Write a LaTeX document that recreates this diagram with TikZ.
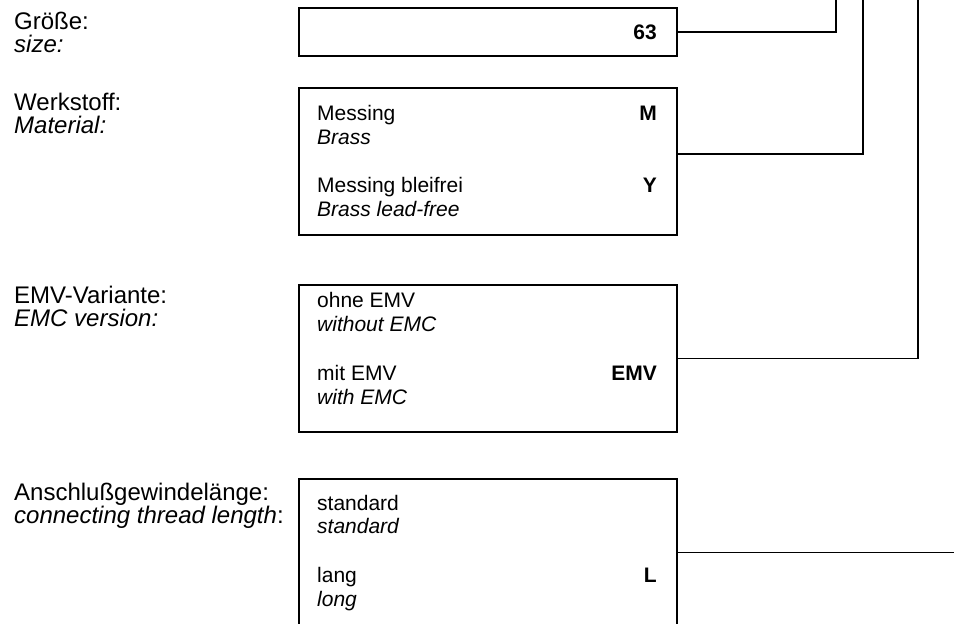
\documentclass[tikz,border=0pt]{standalone}
\usepackage{fontspec}
\setmainfont{Liberation Sans}
\tikzset{
  box/.style={draw, line width=1.5pt, minimum width=378pt, minimum height=147pt, inner sep=0pt},
  lbl/.style={anchor=base west, inner sep=0pt, font=\fontsize{24}{24}\selectfont},
  ilbl/.style={lbl, font=\fontsize{24}{24}\selectfont\itshape},
  txt/.style={anchor=base west, inner sep=0pt, font=\fontsize{21}{24}\selectfont},
  itxt/.style={txt, font=\fontsize{21}{24}\selectfont\itshape},
  code/.style={anchor=base east, inner sep=0pt, font=\fontsize{21}{24}\selectfont\bfseries},
  link/.style={line width=1.5pt}
}
\begin{document}
\begin{tikzpicture}[x=1pt,y=-1pt]
\useasboundingbox (0,0) rectangle (954,624);

% left column
\node[lbl]  (lsize)  at (14,29)  {Größe:};
\node[ilbl] (lsizeE) at (14,52)  {size:};
\node[lbl]  (lmat)   at (14,110) {Werkstoff:};
\node[ilbl] (lmatE)  at (14,133) {Material:};
\node[lbl]  (lemv)   at (14,303) {EMV-Variante:};
\node[ilbl] (lemvE)  at (14,326) {EMC version:};
\node[lbl]  (lthr)   at (14,500) {Anschlußgewindelänge:};
\node[lbl]  (lthrE)  at (14,523) {\itshape connecting thread length\upshape:};

% boxes
\node[box, minimum height=48pt] (size) at (488,32) {};
\node[box] (mat)    at (488,161.5) {};
\node[box] (emv)    at (488,358.5) {};
\node[box] (thread) at (488,552.5) {};

% box texts
\node[code] (c63) at (657,39.5) {63};

\node[txt]  (m1)  at (317,120) {Messing};
\node[itxt] (m1E) at (317,144) {Brass};
\node[txt]  (m2)  at (317,192) {Messing bleifrei};
\node[itxt] (m2E) at (317,216) {Brass lead-free};
\node[code] (cM)  at (657,120) {M};
\node[code] (cY)  at (657,192) {Y};

\node[txt]  (e1)  at (317,307) {ohne EMV};
\node[itxt] (e1E) at (317,331) {without EMC};
\node[txt]  (e2)  at (317,380) {mit EMV};
\node[itxt] (e2E) at (317,404) {with EMC};
\node[code] (cEMV) at (657,380) {EMV};

\node[txt]  (t1)  at (317,510) {standard};
\node[itxt] (t1E) at (317,533) {standard};
\node[txt]  (t2)  at (317,582) {lang};
\node[itxt] (t2E) at (317,606) {long};
\node[code] (cL)  at (657,582) {L};

% connectors
\coordinate (top1) at (836,-2);
\coordinate (top2) at (863,-2);
\coordinate (top3) at (918,-2);
\coordinate (end4) at (956,552.5);
\draw[link] (size.east) -| (top1);
\draw[link] ([yshift=7.5pt]mat.east) -| (top2);
\draw[link] (emv.east) -| (top3);
\draw[link] (thread.east) -- (end4);
\end{tikzpicture}
\end{document}
